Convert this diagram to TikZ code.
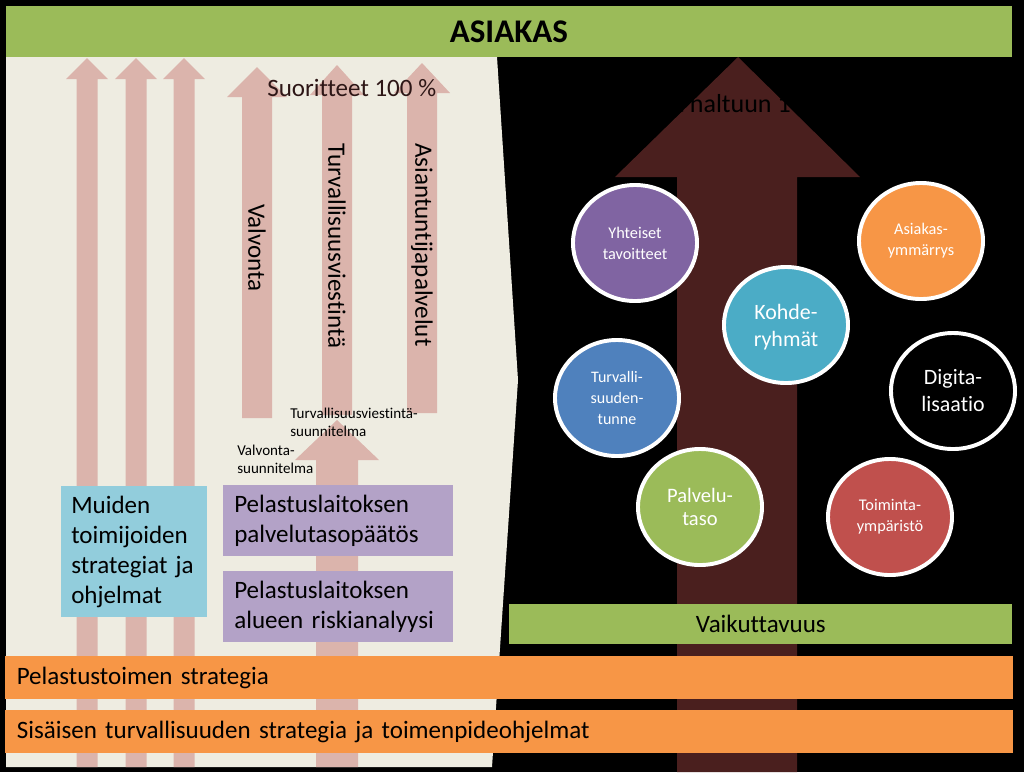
\documentclass[tikz,border=0pt]{standalone}
\usepackage{fontspec}
\setmainfont{Carlito}[Ligatures=NoCommon]
\usepackage{xcolor}
\usepackage{tikz}
\usetikzlibrary{shapes.geometric, positioning}
\definecolor{asiakasgreen}{RGB}{155,187,89}
\definecolor{panelbeige}{RGB}{238,236,225}
\definecolor{arrowpink}{RGB}{219,180,172}
\definecolor{arrowbrown}{RGB}{74,31,30}
\definecolor{muidenblue}{RGB}{146,205,220}
\definecolor{laitospurple}{RGB}{179,162,199}
\definecolor{strategyorange}{RGB}{247,150,70}
\definecolor{goalpurple}{RGB}{128,100,162}
\definecolor{goalteal}{RGB}{75,172,198}
\definecolor{goalblue}{RGB}{79,129,189}
\definecolor{goalred}{RGB}{192,80,77}
\definecolor{labeldark}{RGB}{45,22,22}

\begin{document}
\begin{tikzpicture}[
    x=0.025cm, y=-0.025cm,
    uparrow/.style={fill=arrowpink},
    bigtext/.style={font=\fontsize{17.8}{21.3}\selectfont, text=black},
    vertlabel/.style={bigtext, rotate=-90, inner sep=0},
    smalllabel/.style={font=\fontsize{10.7}{12.8}\selectfont, text=black, align=left, anchor=north west, inner sep=0},
    infobox/.style={bigtext, align=left, inner ysep=0, anchor=north west},
    stripe/.style={bigtext, align=left, inner ysep=0, anchor=north west, fill=strategyorange},
    goal/.style={ellipse, draw=white, line width=2.8pt, minimum width=3.1cm, minimum height=2.9cm, inner sep=0, align=center, text=white},
    goalsmall/.style={goal, font=\fontsize{11.6}{15}\selectfont},
    goalbig/.style={goal, font=\fontsize{15.6}{19.2}\selectfont}
]
    % Background
    \useasboundingbox (0,0) rectangle (1024,772);
    \fill[black] (0,0) rectangle (1024,772);
    \fill[panelbeige] (6,57) -- (497,57) -- (518,380) -- (492,767) -- (6,767) -- cycle;

    % Customer bar
    \node[fill=asiakasgreen, anchor=north west, minimum width=25.125cm, minimum height=1.275cm,
          inner sep=0, font=\fontsize{23.5}{28}\selectfont\bfseries] (asiakas) at (6,6) {ASIAKAS};

    % Strategy arrows
    \foreach \cx in {87,136,184}
        \fill[uparrow] (\cx-10.5,767) -- (\cx-10.5,79) -- (\cx-21,79) -- (\cx,58)
            -- (\cx+21,79) -- (\cx+10.5,79) -- (\cx+10.5,767) -- cycle;

    % Service arrows
    \foreach \cx/\sw/\hw/\tip/\base/\bot in {257/15/30/67/97/418, 337/15/27/65/95/415,
                                            422/15/28/63/93/413, 337/21/42/420/460/767}
        \fill[uparrow] (\cx-\sw,\bot) -- (\cx-\sw,\base) -- (\cx-\hw,\base) -- (\cx,\tip)
            -- (\cx+\hw,\base) -- (\cx+\sw,\base) -- (\cx+\sw,\bot) -- cycle;

    \node[bigtext, text=labeldark, anchor=base west, inner sep=0] (suoritteet) at (267,96) {Suoritteet 100 \%};
    \node[vertlabel] (valvonta) at (257,248) {Valvonta};
    \node[vertlabel] (viestinta) at (337,246) {Turvallisuusviestintä};
    \node[vertlabel] (asiantuntija) at (422,245) {Asiantuntijapalvelut};

    \node[smalllabel] (viestintasuunnitelma) at (290,408) {Turvallisuusviestintä-\\suunnitelma};
    \node[smalllabel] (valvontasuunnitelma) at (237,445) {Valvonta-\\suunnitelma};

    % Boxes
    \node[infobox, fill=muidenblue, minimum width=3.65cm, minimum height=3.275cm,
          text width=3.15cm, inner xsep=0.25cm] (muiden) at (61,486)
          {Muiden\\toimijoiden\\strategiat ja\\ohjelmat};
    \node[infobox, fill=laitospurple, minimum width=5.75cm, minimum height=1.775cm,
          text width=5.2cm, inner xsep=0.275cm] (palvelutaso) at (223,485)
          {Pelastuslaitoksen\\palvelutasopäätös};
    \node[infobox, fill=laitospurple, minimum width=5.75cm, minimum height=1.775cm,
          text width=5.2cm, inner xsep=0.275cm] (riskianalyysi) at (223,571)
          {Pelastuslaitoksen\\alueen riskianalyysi};

    % Impact arrow
    \fill[arrowbrown] (677,772) -- (677,177) -- (615,177) -- (738,57) -- (860,177)
        -- (797,177) -- (797,772) -- cycle;
    \node[anchor=base west, inner sep=0, font=\fontsize{18.5}{22}\selectfont, text=black] (haltuun) at (675,112) {t haltuun 1};

    % Goals
    \node[goalsmall, fill=goalpurple] (yhteiset) at (635,243) {Yhteiset\\tavoitteet};
    \node[goalsmall, fill=strategyorange] (ymmarrys) at (921,241) {Asiakas-\\ymmärrys};
    \node[goalbig, fill=goalteal, text depth=0pt] (kohderyhmat) at (786,325) {Kohde-\\ryhmät};
    \node[goalsmall, fill=goalblue, font=\fontsize{11.4}{14.6}\selectfont] (tunne) at (617,398) {Turvalli-\\suuden-\\tunne};
    \node[goalbig, fill=black] (digitalisaatio) at (953,391) {Digita-\\lisaatio};
    \node[goal, fill=asiakasgreen, font=\fontsize{14.6}{16.6}\selectfont] (palvelutasogoal) at (700,507) {Palvelu-\\taso};
    \node[goalsmall, fill=goalred] (toimintaymparisto) at (890,517) {Toiminta-\\ympäristö};

    % Bottom bars
    \node[bigtext, fill=asiakasgreen, anchor=north west, minimum width=12.575cm, minimum height=1cm,
          inner sep=0] (vaikuttavuus) at (509,604) {Vaikuttavuus};
    \node[stripe, minimum width=25.175cm, minimum height=1.075cm, text width=24.6cm,
          inner xsep=0.275cm] (pelastustoimi) at (5,656) {Pelastustoimen strategia};
    \node[stripe, minimum width=25.175cm, minimum height=1.075cm, text width=24.6cm,
          inner xsep=0.275cm] (sisainen) at (5,710) {Sisäisen turvallisuuden strategia ja toimenpideohjelmat};
\end{tikzpicture}
\end{document}
